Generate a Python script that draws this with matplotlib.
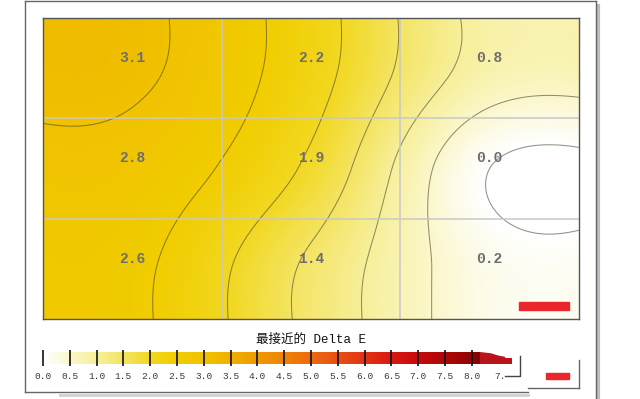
import matplotlib
matplotlib.use('Agg')
import matplotlib.pyplot as plt
import numpy as np
from matplotlib.colors import LinearSegmentedColormap
from matplotlib.patches import Rectangle, Polygon

# measured Delta E on the 3x3 screen grid (row 0 = top)
delta_e = np.array([[3.1, 2.2, 0.8],
                    [2.8, 1.9, 0.0],
                    [2.6, 1.4, 0.2]])

title = '最接近的 Delta E'
cb_ticks = np.arange(0, 8.01, 0.5)
cb_labels = [f'{t:.1f}' for t in cb_ticks] + ['7.']
cb_label_pos = list(cb_ticks) + [8.53]

stops = [0.0, 0.5, 1.0, 1.5, 2.0, 2.5, 3.0, 3.5, 4.0, 4.5, 5.0,
         5.5, 6.0, 6.5, 7.0, 7.5, 8.0, 8.5]
stop_colors = ['#ffffff', '#fbf7c8', '#f7ef98', '#f4e460', '#f2d820', '#f1cd00',
               '#f0c200', '#f0b000', '#f09a00', '#ef8308', '#ec6a10', '#e85014',
               '#e23414', '#d81a12', '#c80c0c', '#b00606', '#900404', '#700000']
vmax = 8.5
cmap = LinearSegmentedColormap.from_list(
    'de', [(s / vmax, c) for s, c in zip(stops, stop_colors)])


def catrom(p, t):
    # Catmull-Rom along the last axis, samples at 0..n-1, edges clamped
    n = p.shape[-1]
    i = np.floor(t).astype(int)
    s = t - i
    p0 = p[..., np.clip(i - 1, 0, n - 1)]
    p1 = p[..., np.clip(i, 0, n - 1)]
    p2 = p[..., np.clip(i + 1, 0, n - 1)]
    p3 = p[..., np.clip(i + 2, 0, n - 1)]
    return 0.5 * (2 * p1 + (p2 - p0) * s
                  + (2 * p0 - 5 * p1 + 4 * p2 - p3) * s ** 2
                  + (3 * p1 - p0 - 3 * p2 + p3) * s ** 3)


u = np.linspace(-0.5, 2.5, 301)
v = np.linspace(-0.5, 2.5, 301)
field = catrom(catrom(delta_e, u).T, v).T

W, H = 640, 399
fig = plt.figure(figsize=(6.4, 3.99), dpi=100)


def fx(px):
    return px / W


def fy(py):
    return 1 - py / H


# outer frame and shadow
fig.add_artist(plt.Line2D([fx(597.5), fx(597.5)], [fy(6), fy(399)], color='#bdbdbd', lw=3))
fig.add_artist(plt.Line2D([fx(60), fx(528)], [fy(394.5), fy(394.5)], color='#d0d0d0', lw=2))
for xs, ys in [([25, 25], [1, 392]), ([25, 596], [1, 1]), ([596, 596], [1, 399]),
               ([25, 528], [392, 392]), ([579, 579], [360, 388]), ([528, 579], [388, 388])]:
    fig.add_artist(plt.Line2D([fx(x) for x in xs], [fy(y) for y in ys],
                              color='#666666', lw=1))

# main plot
ax = fig.add_axes([fx(43), fy(319), (579 - 43) / W, (319 - 18) / H])
ax.imshow(field, extent=[-0.5, 2.5, 2.5, -0.5], cmap=cmap, vmin=0, vmax=vmax,
          interpolation='bilinear', aspect='auto')
ax.contour(u, v, field, levels=np.arange(0, 8.5, 0.5), colors='#4a4636',
           linewidths=0.75, alpha=0.6)
for g in [0.5, 1.5]:
    ax.axvline(g, color='#c8c8c8', lw=1.3, alpha=0.85)
    ax.axhline(g, color='#c8c8c8', lw=1.3, alpha=0.85)
for r in range(3):
    for c in range(3):
        ax.text(c, r - 0.1, f'{delta_e[r, c]:.1f}', ha='center', va='center',
                family='Liberation Mono', fontweight='bold', fontsize=10.5,
                color='#6e6e6e')
ax.set_xlim(-0.5, 2.5)
ax.set_ylim(2.5, -0.5)
ax.set_xticks([])
ax.set_yticks([])
for sp in ax.spines.values():
    sp.set_color('#555555')
    sp.set_linewidth(1)

# red markers
fig.add_artist(Rectangle((fx(519), fy(310)), 50 / W, 8 / H, color='#e8262b'))
fig.add_artist(Rectangle((fx(546), fy(379)), 23 / W, 6 / H, color='#e8262b'))

# colour bar
fig.text(fx(311), fy(340), title, ha='center', va='center', fontsize=9,
         family=['Liberation Mono', 'Noto Sans CJK SC'], color='#111111')
px_per_unit = 53.6
cax = fig.add_axes([fx(43), fy(364), 9 * px_per_unit / W, 12 / H])
grad = np.linspace(0, 8.15, 400)[None, :]
cax.imshow(grad, extent=[0, 8.15, 0, 1], cmap=cmap, vmin=0, vmax=vmax,
           aspect='auto', interpolation='bilinear')
cax.add_patch(Polygon([[8.15, 1], [8.35, 0.9], [8.5, 0.7], [8.62, 0.6], [8.62, 0.5],
                       [8.75, 0.5], [8.75, 0.0], [8.15, 0.0]],
                      closed=True, color='#b8141a', lw=0))
cax.vlines(cb_ticks, -0.2, 1.2, colors='#111111', lw=1.2, clip_on=False)
cax.plot([8.9, 8.9, 8.62], [0.7, -1.0, -1.0], color='#444444', lw=1, clip_on=False)
for pos, lab in zip(cb_label_pos, cb_labels):
    cax.text(pos, -1.05, lab, ha='center', va='center', fontsize=6.8,
             family='Liberation Mono', color='#3a3a3a')
cax.set_xlim(0, 9)
cax.set_ylim(0, 1)
cax.axis('off')

fig.savefig('out.png', dpi=100)
